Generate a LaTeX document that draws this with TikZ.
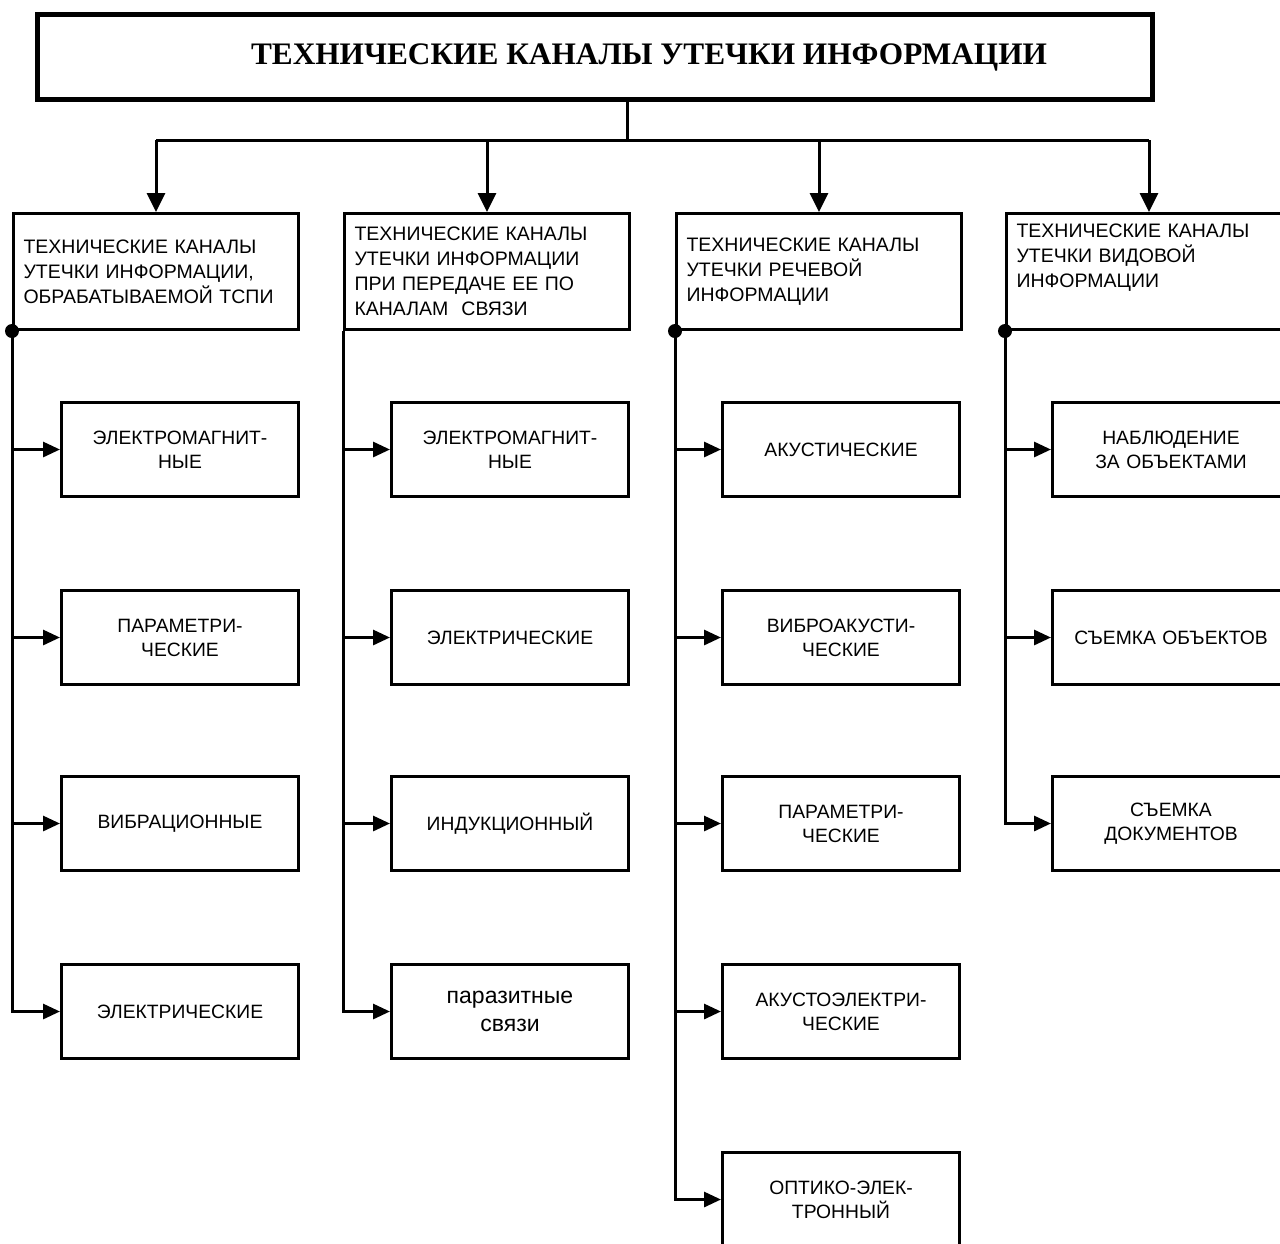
\documentclass[tikz,border=0pt]{standalone}
\usepackage{fontspec}
\setmainfont{Liberation Sans}
\newfontfamily\titlefont{Liberation Serif}
\usetikzlibrary{arrows.meta}
\tikzset{
  conn/.style={line width=3pt},
  arr/.style={conn,-{Triangle[length=19pt,width=18pt]}},
  harr/.style={conn,-{Triangle[length=17pt,width=15pt]}},
  titlebox/.style={draw,line width=5pt,minimum width=1115pt,minimum height=85pt,anchor=north west,inner sep=0pt},
  headbox/.style={draw,line width=3pt,minimum width=285pt,minimum height=116pt,anchor=north west,
    text width=265pt,inner xsep=10pt,inner ysep=0pt,align=left,font=\fontsize{19.5}{25}\selectfont},
  childbox/.style={draw,line width=3pt,minimum width=237pt,minimum height=94pt,anchor=north west,
    text width=230pt,inner sep=0pt,align=center,font=\fontsize{19.3}{24}\selectfont},
  junction/.style={circle,fill,inner sep=0pt,minimum size=14pt},
}
\begin{document}
\begin{tikzpicture}[x=1pt,y=-1pt]
\useasboundingbox (0,0) rectangle (1280,1243);
\clip (0,0) rectangle (1280,1243);
% title
\node[titlebox] (title) at (35,12) {};
\node[font=\titlefont\bfseries\fontsize{31.3}{36}\selectfont] (titletext) at (649,57) {ТЕХНИЧЕСКИЕ КАНАЛЫ УТЕЧКИ ИНФОРМАЦИИ};
\coordinate (stem) at (627,140);
% header boxes
\node[headbox] (h1) at (12,212) {ТЕХНИЧЕСКИЕ КАНАЛЫ\\УТЕЧКИ ИНФОРМАЦИИ,\\ОБРАБАТЫВАЕМОЙ ТСПИ};
\node[headbox] (h2) at (343,212) {ТЕХНИЧЕСКИЕ КАНАЛЫ\\УТЕЧКИ ИНФОРМАЦИИ\\ПРИ ПЕРЕДАЧЕ ЕЕ ПО\\КАНАЛАМ\ \ СВЯЗИ};
\node[headbox] (h3) at (675,212) {ТЕХНИЧЕСКИЕ КАНАЛЫ\\УТЕЧКИ РЕЧЕВОЙ\\ИНФОРМАЦИИ};
\node[headbox] (h4) at (1005,212) {ТЕХНИЧЕСКИЕ КАНАЛЫ\\УТЕЧКИ ВИДОВОЙ\\ИНФОРМАЦИИ\\\strut};
% connectors from title
\draw[conn] (title.south -| stem) -- (stem);
\draw[conn] (h1.north |- stem) -- (h4.north |- stem);
\foreach \h in {h1,h2,h3,h4} \draw[arr] (\h.north |- stem) -- (\h.north);
% column 1
\node[childbox] (c11) at (60,401) {ЭЛЕКТРОМАГНИТ-\\НЫЕ};
\node[childbox] (c12) at (60,589) {ПАРАМЕТРИ-\\ЧЕСКИЕ};
\node[childbox] (c13) at (60,775) {ВИБРАЦИОННЫЕ};
\node[childbox] (c14) at (60,963) {ЭЛЕКТРИЧЕСКИЕ};
% column 2
\node[childbox] (c21) at (390,401) {ЭЛЕКТРОМАГНИТ-\\НЫЕ};
\node[childbox] (c22) at (390,589) {ЭЛЕКТРИЧЕСКИЕ};
\node[childbox] (c23) at (390,775) {ИНДУКЦИОННЫЙ};
\node[childbox,font=\fontsize{23}{28}\selectfont] (c24) at (390,963) {паразитные\\связи};
% column 3
\node[childbox] (c31) at (721,401) {АКУСТИЧЕСКИЕ};
\node[childbox] (c32) at (721,589) {ВИБРОАКУСТИ-\\ЧЕСКИЕ};
\node[childbox] (c33) at (721,775) {ПАРАМЕТРИ-\\ЧЕСКИЕ};
\node[childbox] (c34) at (721,963) {АКУСТОЭЛЕКТРИ-\\ЧЕСКИЕ};
\node[childbox] (c35) at (721,1151) {ОПТИКО-ЭЛЕК-\\ТРОННЫЙ};
% column 4
\node[childbox] (c41) at (1051,401) {НАБЛЮДЕНИЕ\\ЗА ОБЪЕКТАМИ};
\node[childbox] (c42) at (1051,589) {СЪЕМКА ОБЪЕКТОВ};
\node[childbox] (c43) at (1051,775) {СЪЕМКА\\ДОКУМЕНТОВ};
% trunks
\draw[harr] (h1.south west) |- (c14.west);
\foreach \c in {c11,c12,c13} \draw[harr] (h1.south west |- \c.west) -- (\c.west);
\draw[harr] (h2.south west) |- (c24.west);
\foreach \c in {c21,c22,c23} \draw[harr] (h2.south west |- \c.west) -- (\c.west);
\draw[harr] (h3.south west) |- (c35.west);
\foreach \c in {c31,c32,c33,c34} \draw[harr] (h3.south west |- \c.west) -- (\c.west);
\draw[harr] (h4.south west) |- (c43.west);
\foreach \c in {c41,c42} \draw[harr] (h4.south west |- \c.west) -- (\c.west);
\node[junction] (j1) at (h1.south west) {};
\node[junction] (j3) at (h3.south west) {};
\node[junction] (j4) at (h4.south west) {};
\end{tikzpicture}
\end{document}
